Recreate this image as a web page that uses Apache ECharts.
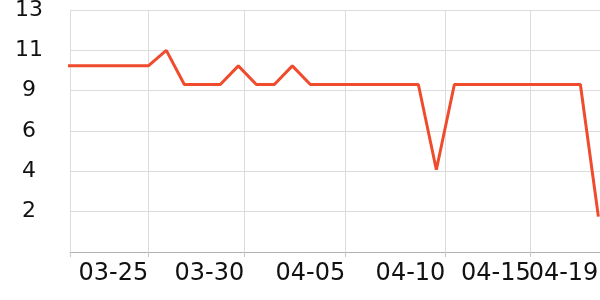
<!DOCTYPE html>
<html>
<head>
<meta charset="utf-8">
<script src="https://cdn.jsdelivr.net/npm/echarts@6/dist/echarts.min.js"></script>
<style>html,body{margin:0;padding:0;background:#fff}#c{width:600px;height:300px}</style>
</head>
<body>
<div id="c"></div>
<script>
// day index: 0 = 03-25
var dates = ['03-20','03-21','03-22','03-23','03-24','03-25','03-26','03-27','03-28','03-29','03-30','03-31','04-01','04-02','04-03','04-04','04-05','04-06','04-07','04-08','04-09','04-10','04-11','04-12','04-13','04-14','04-15','04-16','04-17','04-18','04-19'];
var dayIndex = [-5,-4,-3,-2,-1,0,1,2,3,4,5,6,7,8,9,10,11,12,13,14,15,16,17,18,19,20,21,22,23,24,25];
var values = [10,10,10,10,10,10,10.83,9,9,9,10,9,9,10,9,9,9,9,9,9,9,4.42,9,9,9,9,9,9,9,9,1.9];
var xTickValues = [-4.35,0,5.33,10.94,16.5,21.24];
var xLabelValues = [0,5.33,10.94,16.5,21.24];
var xLabelTexts = ['03-25','03-30','04-05','04-10','04-15'];
var xEndLabelValues = [25];
var xEndLabelTexts = ['04-19'];
var yTickLabels = ['','2','4','6','9','11','13'];

function lookup(vals, texts, v){
  var best = -1, bd = 1e9;
  for (var i = 0; i < vals.length; i++) {
    var d = Math.abs(vals[i] - v);
    if (d < bd) { bd = d; best = i; }
  }
  return bd < 0.01 ? texts[best] : '';
}
function yLabelFor(v){
  var i = Math.round(v / (13/6));
  return yTickLabels[i] || '';
}

var xMin = -4.35, xMax = 25.09;
var labelStyle = {fontSize:24,color:'#111',fontFamily:'DejaVu Sans',align:'right',margin:10,
  showMinLabel:true,showMaxLabel:true,hideOverlap:false};

var chart = echarts.init(document.getElementById('c'), null, {renderer:'canvas'});
var data = dayIndex.map(function(d,i){return [d, values[i]];});
chart.setOption({
  animation:false,
  grid:{left:70,right:0,top:10,bottom:48,containLabel:false,outerBoundsMode:'none'},
  xAxis:[{
    type:'value', min:xMin, max:xMax,
    axisLine:{show:true,lineStyle:{color:'#b0b0b0',width:1}},
    axisTick:{show:true,length:5,customValues:xTickValues,lineStyle:{color:'#c8c8c8'}},
    splitLine:{show:true,lineStyle:{color:'#dcdcdc',width:1}},
    axisLabel:Object.assign({customValues:xLabelValues,
      formatter:function(v){return lookup(xLabelValues,xLabelTexts,v);}}, labelStyle)
  },{
    type:'value', min:xMin, max:xMax, position:'bottom',
    axisLine:{show:false}, axisTick:{show:false}, splitLine:{show:false},
    axisLabel:Object.assign({customValues:xEndLabelValues,
      formatter:function(v){return lookup(xEndLabelValues,xEndLabelTexts,v);}}, labelStyle)
  }],
  yAxis:{
    type:'value', min:0, max:13, interval:13/6,
    axisLine:{show:false}, axisTick:{show:false},
    splitLine:{show:true,lineStyle:{color:'#dcdcdc',width:1}},
    axisLabel:{fontSize:22,color:'#111',fontFamily:'DejaVu Sans',align:'center',margin:41,
      padding:[4,0,0,0],
      formatter:function(v){return yLabelFor(v);}}
  },
  series:[{type:'line',data:data,symbol:'none',clip:true,xAxisIndex:0,
    lineStyle:{color:'#ef4b2c',width:3}}]
});
</script>
</body>
</html>
